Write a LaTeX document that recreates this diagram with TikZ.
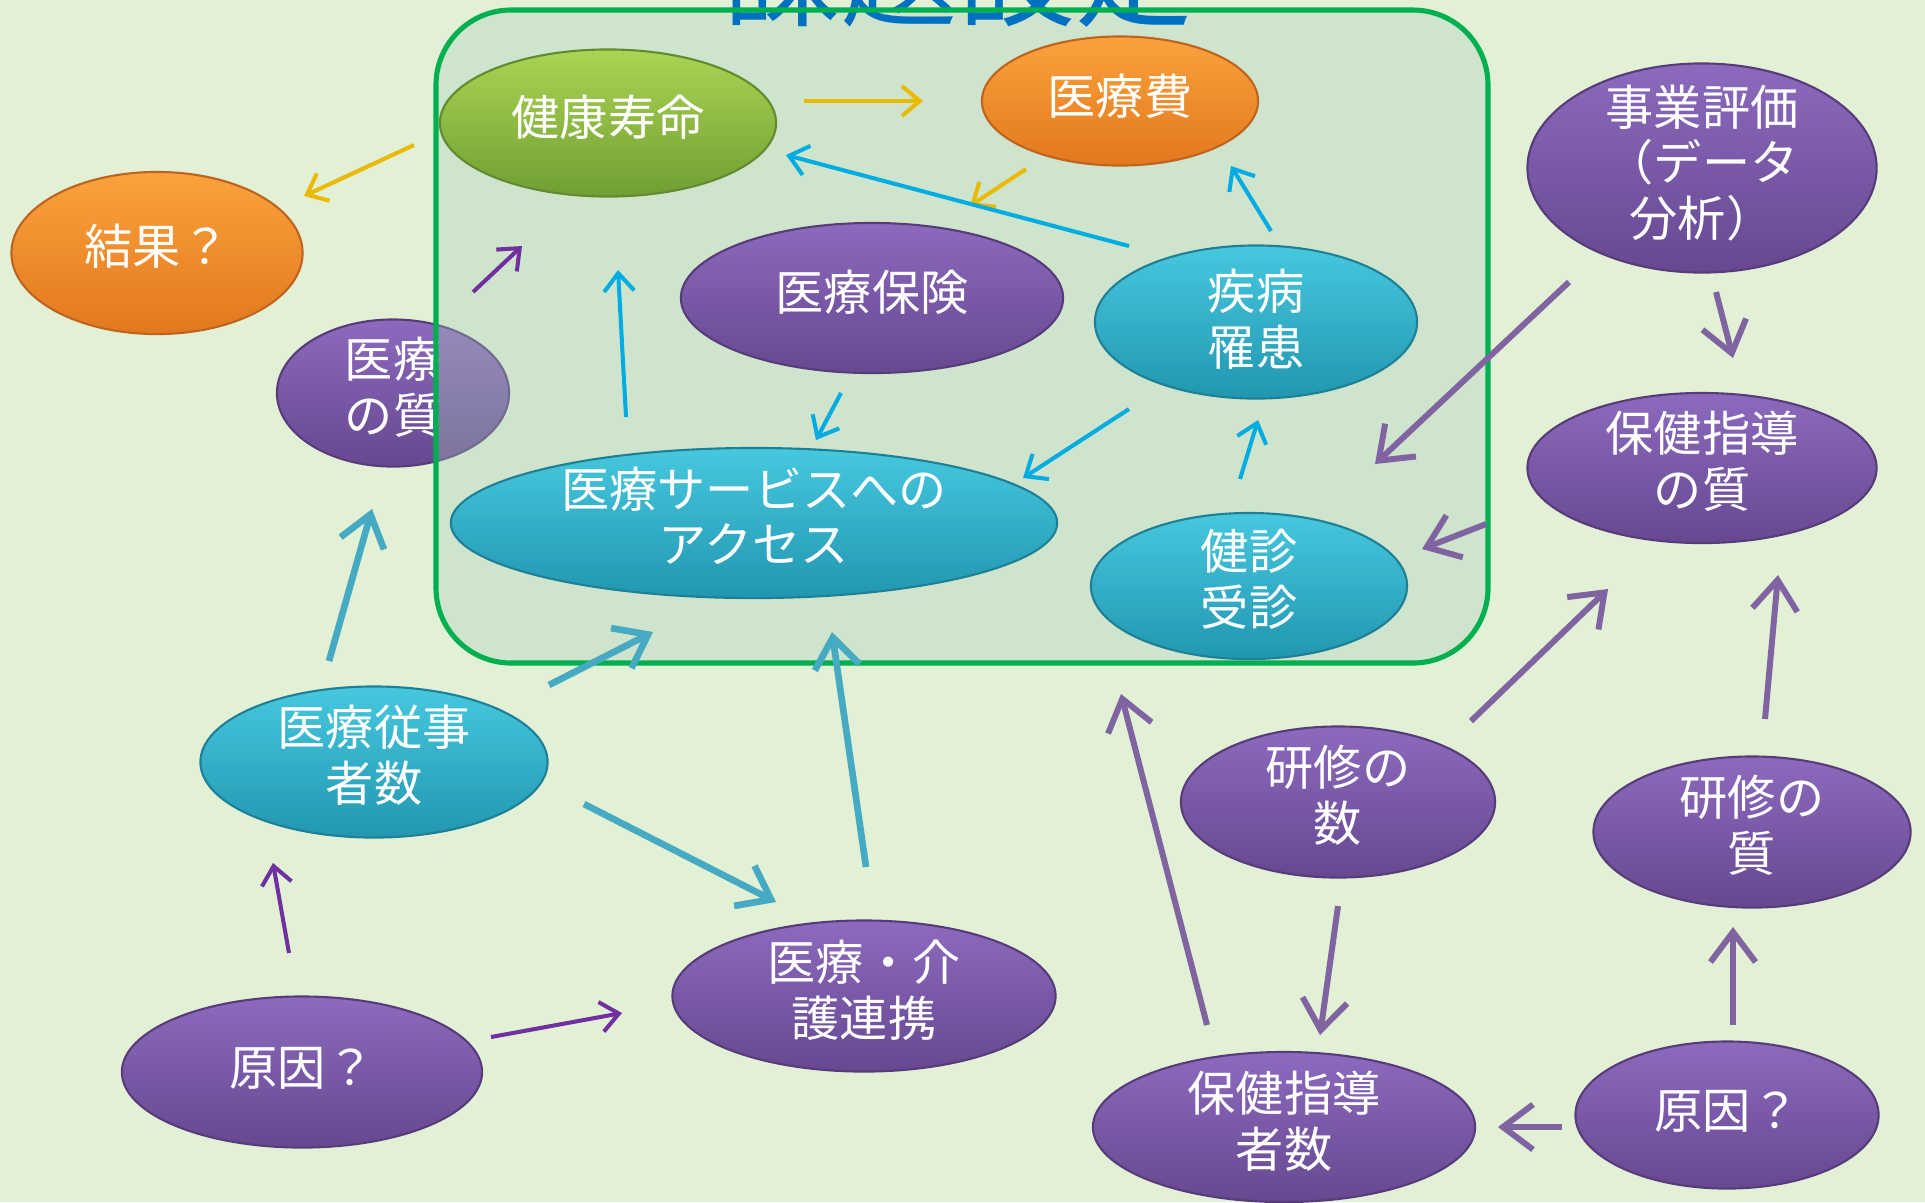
\documentclass[tikz,border=0pt]{standalone}
\usepackage{fontspec}
\newfontfamily\jp{Noto Sans CJK JP}
\usetikzlibrary{shapes.geometric,arrows.meta}
\definecolor{bg}{RGB}{226,240,214}
\definecolor{boxov}{RGB}{170,205,185}
\definecolor{boxline}{RGB}{0,176,80}
\definecolor{titleblue}{RGB}{0,112,192}
\definecolor{purpT}{RGB}{140,106,190}
\definecolor{purpB}{RGB}{102,72,144}
\definecolor{purpD}{RGB}{88,60,122}
\definecolor{tealT}{RGB}{70,200,222}
\definecolor{tealB}{RGB}{34,150,176}
\definecolor{tealD}{RGB}{30,128,150}
\definecolor{grT}{RGB}{172,212,82}
\definecolor{grB}{RGB}{112,158,52}
\definecolor{grD}{RGB}{98,138,48}
\definecolor{orT}{RGB}{251,162,60}
\definecolor{orB}{RGB}{226,120,30}
\definecolor{orD}{RGB}{190,100,30}
\definecolor{gold}{RGB}{234,186,0}
\definecolor{skyblue}{RGB}{0,172,226}
\definecolor{tealarr}{RGB}{70,170,195}
\definecolor{dpurp}{RGB}{112,48,160}
\definecolor{mpurp}{RGB}{128,100,162}
\tikzset{
  blob/.style={ellipse, inner sep=0pt, line width=0.6pt},
  purp/.style={blob, top color=purpT, bottom color=purpB, draw=purpD},
  teal/.style={blob, top color=tealT, bottom color=tealB, draw=tealD},
  grn/.style={blob, top color=grT, bottom color=grB, draw=grD},
  orng/.style={blob, top color=orT, bottom color=orB, draw=orD},
  txt/.style={font=\jp\fontsize{13.7}{15.8}\selectfont, text=white, align=center, inner sep=0pt},
  thin/.style={-{Straight Barb[length=0.18cm,width=0.3cm]}, line width=1.15pt},
  thick/.style={-{Straight Barb[length=0.3cm,width=0.45cm]}, line width=1.9pt},
  agold/.style={thin, draw=gold},
  asky/.style={thin, draw=skyblue},
  adp/.style={thin, draw=dpurp},
  ateal/.style={thick, draw=tealarr},
  amp/.style={thick, draw=mpurp, line width=1.7pt},
}
\begin{document}
\begin{tikzpicture}[x=0.01cm,y=-0.01cm]
\useasboundingbox (0,0) rectangle (1925,1202);
\clip (0,0) rectangle (1925,1202);
\fill[bg] (0,0) rectangle (1925,1202);

% node partly covered by the box
\node[purp, minimum width=2.32cm, minimum height=1.47cm] (qual) at (393,393) {};
\begin{scope}
  \clip (0,0) rectangle (438,1202);
  \node[txt] (qual-t) at ([yshift=0.06cm]qual.center) {医療\\の質};
\end{scope}

% box fill
\fill[boxov, fill opacity=0.33, rounded corners=0.75cm] (436,10) rectangle (1488,663);
% title
\node[font=\jp\fontsize{33.3}{36}\selectfont, text=titleblue, anchor=base, inner sep=0pt] (title) at (958,17) {課題設定};
% box border
\draw[boxline, line width=1.45pt, rounded corners=0.75cm] (436,10) rectangle (1488,663);

% nodes
\node[grn, minimum width=3.36cm, minimum height=1.47cm] (life) at (608,123) {};
\node[txt] (life-t) at ([yshift=0.06cm]life.center) {健康寿命};
\node[orng, minimum width=2.76cm, minimum height=1.29cm] (cost) at (1120,101) {};
\node[txt] (cost-t) at ([yshift=0.05cm]cost.center) {医療費};
\node[orng, minimum width=2.91cm, minimum height=1.62cm] (res) at (157,253) {};
\node[txt] (res-t) at ([yshift=0.07cm]res.center) {結果？};
\node[purp, minimum width=3.82cm, minimum height=1.50cm] (ins) at (872,298) {};
\node[txt] (ins-t) at ([yshift=0.06cm]ins.center) {医療保険};
\node[teal, minimum width=3.22cm, minimum height=1.53cm] (dis) at (1256,322) {};
\node[txt] (dis-t) at ([yshift=0.03cm]dis.center) {疾病\\罹患};
\node[teal, minimum width=6.06cm, minimum height=1.50cm] (acc) at (754,523) {};
\node[txt] (acc-t) at ([yshift=0.07cm]acc.center) {医療サービスへの\\アクセス};
\node[teal, minimum width=3.16cm, minimum height=1.46cm] (chk) at (1249,586) {};
\node[txt] (chk-t) at ([yshift=0.07cm]chk.center) {健診\\受診};
\node[purp, minimum width=3.49cm, minimum height=2.09cm] (eval) at (1702,168) {};
\node[txt] (eval-t) at ([yshift=0.05cm]eval.center) {事業評価\\（データ\\分析）};
\node[purp, minimum width=3.49cm, minimum height=1.50cm] (gq) at (1702,468) {};
\node[txt] (gq-t) at ([yshift=0.07cm]gq.center) {保健指導\\の質};
\node[teal, minimum width=3.47cm, minimum height=1.51cm] (staff) at (374,762) {};
\node[txt] (staff-t) at ([yshift=0.07cm]staff.center) {医療従事\\者数};
\node[purp, minimum width=3.14cm, minimum height=1.51cm] (trn) at (1338,802) {};
\node[txt] (trn-t) at ([yshift=0.07cm]trn.center) {研修の\\数};
\node[purp, minimum width=3.17cm, minimum height=1.51cm] (trq) at (1752,832) {};
\node[txt] (trq-t) at ([yshift=0.07cm]trq.center) {研修の\\質};
\node[purp, minimum width=3.83cm, minimum height=1.51cm] (care) at (864,996) {};
\node[txt] (care-t) at ([yshift=0.06cm]care.center) {医療・介\\護連携};
\node[purp, minimum width=3.60cm, minimum height=1.51cm] (causeL) at (302,1072) {};
\node[txt] (causeL-t) at ([yshift=0.04cm]causeL.center) {原因？};
\node[purp, minimum width=3.82cm, minimum height=1.50cm] (gn) at (1284,1127) {};
\node[txt] (gn-t) at ([yshift=0.06cm]gn.center) {保健指導\\者数};
\node[purp, minimum width=3.03cm, minimum height=1.47cm] (causeR) at (1727,1115) {};
\node[txt] (causeR-t) at ([yshift=0.04cm]causeR.center) {原因？};

% arrow end points
\coordinate (a1s) at (804,101);  \coordinate (a1e) at (923,101);
\coordinate (a2s) at (414,145);  \coordinate (a2e) at (304,196);
\coordinate (a3s) at (1026,169); \coordinate (a3e) at (970,206);
\coordinate (a4s) at (1129,246); \coordinate (a4e) at (786,155);
\coordinate (a5s) at (1271,231); \coordinate (a5e) at (1231,166);
\coordinate (a6s) at (1129,409); \coordinate (a6e) at (1023,478);
\coordinate (a7s) at (1240,479); \coordinate (a7e) at (1258,420);
\coordinate (a8s) at (841,393);  \coordinate (a8e) at (816,440);
\coordinate (a9s) at (626,417);  \coordinate (a9e) at (618,270);
\coordinate (a10s) at (473,292); \coordinate (a10e) at (522,246);
\coordinate (a11s) at (329,661); \coordinate (a11e) at (372,509);
\coordinate (a12s) at (549,685); \coordinate (a12e) at (653,632);
\coordinate (a13s) at (584,804); \coordinate (a13e) at (776,902);
\coordinate (a14s) at (866,867); \coordinate (a14e) at (832,632);
\coordinate (a15s) at (289,953); \coordinate (a15e) at (273,863);
\coordinate (a16s) at (491,1037); \coordinate (a16e) at (622,1013);
\coordinate (a17s) at (1569,282); \coordinate (a17e) at (1375,464);
\coordinate (a18s) at (1716,292); \coordinate (a18e) at (1733,358);
\coordinate (a19s) at (1486,524); \coordinate (a19e) at (1422,549);
\coordinate (a20s) at (1471,721); \coordinate (a20e) at (1608,589);
\coordinate (a21s) at (1765,719); \coordinate (a21e) at (1778,575);
\coordinate (a22s) at (1207,1025); \coordinate (a22e) at (1121,694);
\coordinate (a23s) at (1338,906); \coordinate (a23e) at (1320,1035);
\coordinate (a24s) at (1733,1025); \coordinate (a24e) at (1733,927);
\coordinate (a25s) at (1562,1127); \coordinate (a25e) at (1498,1127);

% arrows
\draw[agold] (a1s) -- (a1e);
\draw[agold] (a2s) -- (a2e);
\draw[agold] (a3s) -- (a3e);
\draw[asky] (a4s) -- (a4e);
\draw[asky] (a5s) -- (a5e);
\draw[asky] (a6s) -- (a6e);
\draw[asky] (a7s) -- (a7e);
\draw[asky] (a8s) -- (a8e);
\draw[asky] (a9s) -- (a9e);
\draw[adp] (a10s) -- (a10e);
\draw[ateal] (a11s) -- (a11e);
\draw[ateal] (a12s) -- (a12e);
\draw[ateal] (a13s) -- (a13e);
\draw[ateal] (a14s) -- (a14e);
\draw[adp] (a15s) -- (a15e);
\draw[adp] (a16s) -- (a16e);
\draw[amp] (a17s) -- (a17e);
\draw[amp] (a18s) -- (a18e);
\draw[amp] (a19s) -- (a19e);
\draw[amp] (a20s) -- (a20e);
\draw[amp] (a21s) -- (a21e);
\draw[amp] (a22s) -- (a22e);
\draw[amp] (a23s) -- (a23e);
\draw[amp] (a24s) -- (a24e);
\draw[amp] (a25s) -- (a25e);
\end{tikzpicture}
\end{document}
